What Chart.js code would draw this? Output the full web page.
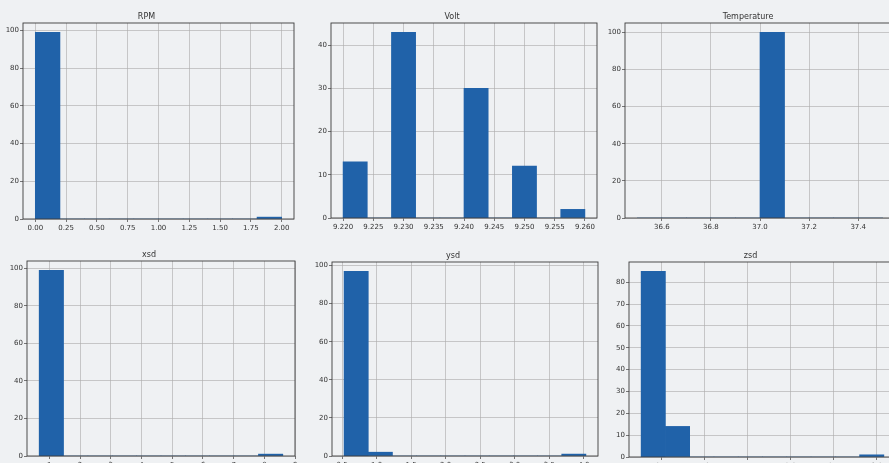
<!DOCTYPE html>
<html>
<head>
<meta charset="utf-8">
<script src="https://cdn.jsdelivr.net/npm/chart.js@4.4.1/dist/chart.umd.min.js"></script>
<style>
  html, body { margin: 0; padding: 0; overflow: hidden; }
  body { width: 889px; height: 463px; background: #eff1f3; position: relative; }
  canvas { position: absolute; }
</style>
</head>
<body>
<script>
// histogram counts (10 bins each) and the bin range [lo, hi]
const rpmCounts = [99, 0, 0, 0, 0, 0, 0, 0, 0, 1];
const rpmRange = [0, 2];
const rpmTicks = [0, 0.25, 0.5, 0.75, 1, 1.25, 1.5, 1.75, 2];

const voltCounts = [13, 0, 43, 0, 0, 30, 0, 12, 0, 2];
const voltRange = [9.22, 9.26];
const voltTicks = [9.22, 9.225, 9.23, 9.235, 9.24, 9.245, 9.25, 9.255, 9.26];

const tempCounts = [0, 0, 0, 0, 0, 100, 0, 0, 0, 0];
const tempRange = [36.5, 37.5];
const tempTicks = [36.6, 36.8, 37.0, 37.2, 37.4];

const xsdCounts = [99, 0, 0, 0, 0, 0, 0, 0, 0, 1];
const xsdRange = [0.67, 8.6];
const xsdTicks = [1, 2, 3, 4, 5, 6, 7, 8, 9];

const ysdCounts = [97, 2, 0, 0, 0, 0, 0, 0, 0, 1];
const ysdRange = [0.53, 4.03];
const ysdTicks = [0.5, 1.0, 1.5, 2.0, 2.5, 3.0, 3.5, 4.0];

const zsdCounts = [85, 14, 0, 0, 0, 0, 0, 0, 0, 1];
const zsdRange = [0.27, 3.08];
const zsdTicks = [0.5, 1.0, 1.5, 2.0, 2.5, 3.0];

const yTicks100 = [0, 20, 40, 60, 80, 100];
const yTicksVolt = [0, 10, 20, 30, 40];
const yTicksZsd = [0, 10, 20, 30, 40, 50, 60, 70, 80];

// plot boxes on the page: left, top, right, bottom
const panels = [
  { title: 'RPM', counts: rpmCounts, range: rpmRange, xt: rpmTicks, dig: 2, yt: yTicks100, box: [23, 23, 294, 219] },
  { title: 'Volt', counts: voltCounts, range: voltRange, xt: voltTicks, dig: 3, yt: yTicksVolt, box: [331, 23, 597, 218] },
  { title: 'Temperature', counts: tempCounts, range: tempRange, xt: tempTicks, dig: 1, yt: yTicks100, box: [625, 23, 895, 218] },
  { title: 'xsd', counts: xsdCounts, range: xsdRange, xt: xsdTicks, dig: 0, yt: yTicks100, box: [27, 261, 295, 456] },
  { title: 'ysd', counts: ysdCounts, range: ysdRange, xt: ysdTicks, dig: 1, yt: yTicks100, box: [332, 262, 598, 456] },
  { title: 'zsd', counts: zsdCounts, range: zsdRange, xt: zsdTicks, dig: 1, yt: yTicksZsd, box: [629, 262, 896, 457] }
];

const SIDE = 24, TOP = 12, BOTTOM = 16;

const frame = {
  id: 'frame',
  afterDraw(chart) {
    const a = chart.chartArea, ctx = chart.ctx;
    ctx.save();
    ctx.strokeStyle = '#3c3c3c';
    ctx.lineWidth = 0.9;
    ctx.strokeRect(a.left, a.top, a.right - a.left, a.bottom - a.top);
    ctx.restore();
  }
};

function histograma(p) {
  const [l, t, r, b] = p.box;
  const cv = document.createElement('canvas');
  cv.width = r - l + SIDE * 2;
  cv.height = b - t + TOP + BOTTOM;
  cv.style.left = (l - SIDE) + 'px';
  cv.style.top = (t - TOP) + 'px';
  document.body.appendChild(cv);

  const [lo, hi] = p.range;
  const w = (hi - lo) / p.counts.length;
  const datos = p.counts.map((c, i) => ({ x: lo + w * (i + 0.5), y: c }));
  const yMax = Math.max(...p.counts) * 1.05;
  const font = { family: 'DejaVu Sans', size: 7 };
  const grid = { color: 'rgba(170,170,170,0.75)', lineWidth: 0.8, tickLength: 3, tickColor: '#555', offset: false };

  new Chart(cv.getContext('2d'), {
    type: 'bar',
    data: {
      datasets: [{
        data: datos,
        backgroundColor: '#2062a9',
        borderWidth: 0,
        barPercentage: 1,
        categoryPercentage: 1
      }]
    },
    options: {
      responsive: false,
      animation: false,
      devicePixelRatio: 1,
      layout: { padding: { left: 0, right: SIDE, top: 0, bottom: 0 } },
      plugins: {
        legend: { display: false },
        tooltip: { enabled: false },
        title: {
          display: true,
          text: p.title,
          color: '#333',
          font: { family: 'DejaVu Sans', size: 8, weight: 'normal', lineHeight: 1 },
          padding: { top: 2, bottom: 2 }
        }
      },
      scales: {
        x: {
          type: 'linear',
          offset: false,
          z: 1,
          min: lo - (hi - lo) * 0.05,
          max: hi + (hi - lo) * 0.05,
          afterBuildTicks: s => { s.ticks = p.xt.map(v => ({ value: v })); },
          afterFit: s => { s.height = BOTTOM; },
          border: { display: false },
          grid,
          ticks: {
            autoSkip: false, maxRotation: 0, padding: 2, color: '#333', font,
            callback: v => v.toFixed(p.dig)
          }
        },
        y: {
          z: 1,
          min: 0,
          max: yMax,
          afterBuildTicks: s => { s.ticks = p.yt.map(v => ({ value: v })); },
          afterFit: s => { s.width = SIDE; },
          border: { display: false },
          grid,
          ticks: { padding: 1, color: '#333', font, callback: v => String(v) }
        }
      }
    },
    plugins: [frame]
  });
}

panels.forEach(histograma);
</script>
</body>
</html>
